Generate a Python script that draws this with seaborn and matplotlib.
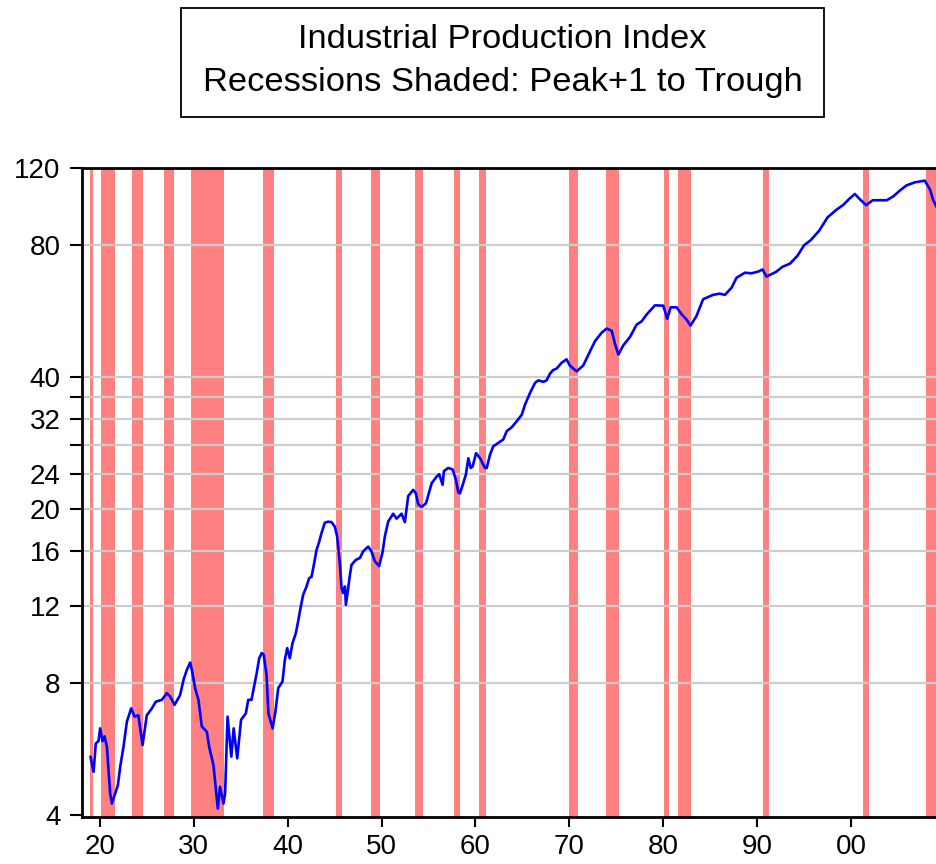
import matplotlib
matplotlib.use("Agg")
import matplotlib.pyplot as plt
import seaborn as sns
import numpy as np
import pandas as pd
from matplotlib.patches import Rectangle
from matplotlib.ticker import FixedLocator, FixedFormatter, NullLocator

# ---------------- data ----------------
years = [
    1919.00, 1919.33, 1919.57, 1919.86, 1920.03, 1920.29, 1920.50, 1920.75,
    1921.10, 1921.28, 1921.63, 1921.92, 1922.17, 1922.52, 1922.88, 1923.34,
    1923.70, 1924.10, 1924.55, 1925.00, 1925.54, 1925.96, 1926.60, 1927.14,
    1927.49, 1927.96, 1928.55, 1928.91, 1929.26, 1929.62, 1929.80, 1930.15,
    1930.50, 1930.86, 1931.39, 1931.64, 1932.10, 1932.56, 1932.80, 1933.17,
    1933.34, 1933.60, 1934.00, 1934.25, 1934.63, 1935.04, 1935.55, 1935.80,
    1936.15, 1936.50, 1936.70, 1936.97, 1937.23, 1937.45, 1937.75, 1937.95,
    1938.40, 1938.70, 1939.00, 1939.45, 1939.70, 1939.95, 1940.23, 1940.52,
    1940.87, 1941.11, 1941.37, 1941.65, 1942.01, 1942.29, 1942.54, 1942.79,
    1943.07, 1943.35, 1943.60, 1943.96, 1944.31, 1944.67, 1945.03, 1945.27,
    1945.56, 1945.74, 1945.90, 1946.10, 1946.20, 1946.45, 1946.60, 1946.80,
    1947.26, 1947.69, 1948.04, 1948.58, 1948.93, 1949.28, 1949.74, 1950.10,
    1950.35, 1950.70, 1951.24, 1951.60, 1952.13, 1952.48, 1952.84, 1953.37,
    1953.66, 1953.90, 1954.27, 1954.73, 1955.08, 1955.34, 1955.87, 1956.14,
    1956.50, 1956.64, 1957.10, 1957.57, 1957.92, 1958.17, 1958.35, 1958.70,
    1958.99, 1959.24, 1959.49, 1959.70, 1960.06, 1960.49, 1961.02, 1961.20,
    1961.55, 1961.90, 1962.43, 1962.96, 1963.33, 1963.86, 1964.39, 1964.93,
    1965.28, 1965.81, 1966.35, 1966.70, 1967.23, 1967.57, 1967.93, 1968.28,
    1968.64, 1969.17, 1969.70, 1970.05, 1970.77, 1971.48, 1972.20, 1972.73,
    1973.44, 1973.98, 1974.51, 1974.87, 1975.22, 1975.73, 1976.46, 1977.17,
    1977.70, 1978.24, 1979.12, 1980.00, 1980.42, 1980.79, 1981.43, 1981.96,
    1982.48, 1982.90, 1983.53, 1984.24, 1985.30, 1986.00, 1986.57, 1987.28,
    1987.80, 1988.69, 1989.40, 1990.10, 1990.57, 1990.99, 1992.00, 1992.70,
    1993.50, 1994.30, 1995.00, 1995.70, 1996.60, 1997.50, 1998.40, 1999.20,
    1999.80, 2000.40, 2000.90, 2001.60, 2002.30, 2003.80, 2004.50, 2005.20,
    2005.90, 2006.80, 2007.85, 2008.40, 2008.75, 2009.15,
]
ip_index = [
    5.44, 5.02, 5.83, 5.90, 6.31, 5.90, 6.05, 5.73,
    4.48, 4.25, 4.48, 4.68, 5.16, 5.73, 6.54, 7.01,
    6.71, 6.76, 5.78, 6.76, 7.01, 7.26, 7.33, 7.59,
    7.46, 7.14, 7.52, 8.14, 8.58, 8.92, 8.58, 7.79,
    7.33, 6.37, 6.20, 5.73, 5.20, 4.14, 4.64, 4.25,
    4.48, 6.71, 5.44, 6.31, 5.39, 6.60, 6.83, 7.33,
    7.33, 8.00, 8.43, 9.12, 9.37, 9.30, 8.37, 6.83,
    6.31, 6.90, 7.80, 8.07, 9.04, 9.62, 9.12, 9.88,
    10.4, 11.06, 11.87, 12.73, 13.3, 13.9, 13.99, 14.9,
    16.1, 16.8, 17.6, 18.6, 18.7, 18.66, 18.2, 17.3,
    15.0, 13.2, 12.85, 13.3, 12.08, 13.2, 14.0, 14.9,
    15.3, 15.45, 16.0, 16.4, 16.0, 15.2, 14.8, 15.9,
    17.3, 18.7, 19.5, 19.0, 19.5, 18.66, 21.4, 22.1,
    21.7, 20.5, 20.2, 20.6, 21.9, 22.9, 23.7, 24.0,
    22.7, 24.4, 24.8, 24.6, 23.3, 21.8, 21.7, 22.9,
    24.0, 26.1, 24.8, 25.0, 26.8, 26.1, 24.8, 24.8,
    26.6, 27.8, 28.3, 28.8, 30.1, 30.7, 31.7, 32.8,
    34.6, 36.8, 38.8, 39.3, 39.0, 39.3, 40.7, 41.5,
    41.8, 43.1, 43.9, 42.5, 41.2, 42.5, 45.8, 48.3,
    50.5, 51.6, 51.0, 47.5, 45.0, 47.2, 49.4, 52.7,
    53.6, 55.6, 58.3, 58.2, 54.3, 57.7, 57.7, 55.6,
    54.1, 52.4, 55.1, 60.2, 61.6, 62.0, 61.6, 64.0,
    67.4, 69.2, 69.0, 69.6, 70.4, 67.8, 69.5, 71.4,
    72.6, 75.7, 80.0, 82.1, 86.3, 92.6, 96.2, 99.0,
    102.0, 104.7, 102.0, 98.7, 101.3, 101.3, 103.4, 106.6,
    109.5, 111.3, 112.3, 107.2, 101.3, 97.4,
]

# NBER business-cycle peaks and troughs (year, month)
recession_peaks = [(1918, 8), (1920, 1), (1923, 5), (1926, 10), (1929, 8), (1937, 5),
                   (1945, 2), (1948, 11), (1953, 7), (1957, 8), (1960, 4), (1969, 12),
                   (1973, 11), (1980, 1), (1981, 7), (1990, 7), (2001, 3), (2007, 12)]
recession_troughs = [(1919, 3), (1921, 7), (1924, 7), (1927, 11), (1933, 3), (1938, 6),
                     (1945, 10), (1949, 10), (1954, 5), (1958, 4), (1961, 2), (1970, 11),
                     (1975, 3), (1980, 7), (1982, 11), (1991, 3), (2001, 11), (2009, 6)]

y_ticks = [4, 8, 12, 16, 20, 24, 28, 32, 36, 40, 80, 120]
y_tick_labels = ["4", "8", "12", "16", "20", "24", "", "32", "", "40", "80", "120"]
x_ticks = [1920, 1930, 1940, 1950, 1960, 1970, 1980, 1990, 2000]
x_tick_labels = ["20", "30", "40", "50", "60", "70", "80", "90", "00"]

title_lines = ["Industrial Production Index", "Recessions Shaded: Peak+1 to Trough"]

# ---------------- figure ----------------
sns.set_style("white")
plt.rcParams["font.family"] = ["Liberation Sans", "DejaVu Sans"]
plt.rcParams["text.color"] = "black"

W, H = 937, 864
fig = plt.figure(figsize=(W / 100, H / 100), dpi=100)
ax = fig.add_axes([82 / W, 1 - 817 / H, (W - 82) / W, (817 - 168) / H])

df = pd.DataFrame({"year": years, "ip": ip_index})

data_start = years[0]
for (py, pm), (ty, tm) in zip(recession_peaks, recession_troughs):
    start = py + pm / 12.0          # start of month after the peak
    end = ty + tm / 12.0            # end of the trough month
    start = max(start, data_start)
    ax.axvspan(start, end, color="#FF8080", lw=0, zorder=1)

sns.lineplot(data=df, x="year", y="ip", ax=ax, color="#0000FF", lw=1.9,
             zorder=3, estimator=None, sort=False)

ax.set_yscale("log")
ax.set_ylim(3.96, 120)
ax.set_xlim(1918.1, 2009.15)

ax.yaxis.set_major_locator(FixedLocator(y_ticks))
ax.yaxis.set_major_formatter(FixedFormatter(y_tick_labels))
ax.yaxis.set_minor_locator(NullLocator())
ax.xaxis.set_major_locator(FixedLocator(x_ticks))
ax.xaxis.set_major_formatter(FixedFormatter(x_tick_labels))

# gridlines (over shading, under the line)
for v in y_ticks:
    if v not in (4, 120):
        ax.axhline(v, color="#CCCCCC", lw=1.6, zorder=2)

ax.tick_params(axis="y", direction="out", length=9, width=1.5, pad=6.5,
               labelsize=20, left=True, colors="black")
ax.tick_params(axis="x", direction="out", length=7.5, width=1.5, pad=5,
               labelsize=20, bottom=True, colors="black")

for side in ["left", "bottom", "top"]:
    ax.spines[side].set_visible(True)
    ax.spines[side].set_linewidth(2.0)
    ax.spines[side].set_color("black")
ax.spines["right"].set_visible(False)

ax.set_xlabel("")
ax.set_ylabel("")

# title box
fig.add_artist(Rectangle((181 / W, 1 - 117 / H), (824 - 181) / W, (117 - 8) / H,
                         transform=fig.transFigure, fill=False, edgecolor="black",
                         lw=1.3))
cx = (181 + 824) / 2 / W
fig.text(cx, 1 - 40 / H, title_lines[0], ha="center", va="center",
         fontsize=24.8, color="black")
fig.text(cx, 1 - 82 / H, title_lines[1], ha="center", va="center",
         fontsize=24.8, color="black")

fig.savefig("out.png", dpi=100)
